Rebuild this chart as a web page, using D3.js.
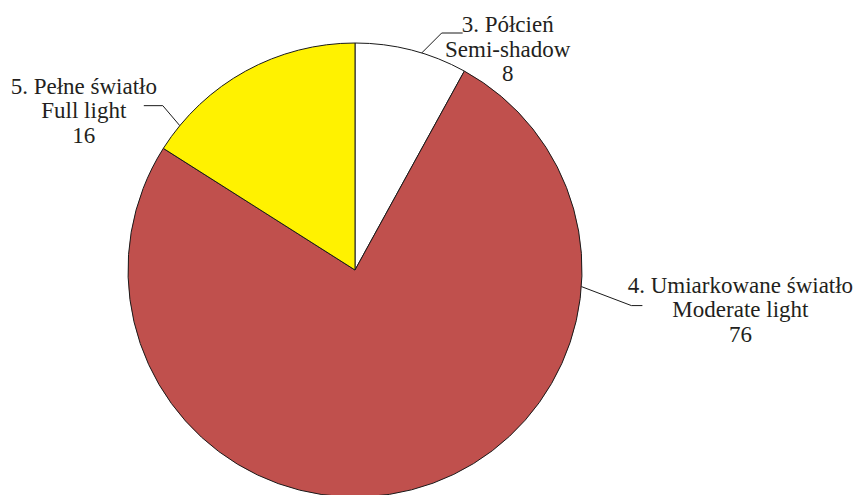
<!DOCTYPE html>
<html>
<head>
<meta charset="utf-8">
<script src="https://cdn.jsdelivr.net/npm/d3@7"></script>
</head>
<body style="margin:0">
<svg id="chart" width="860" height="495"></svg>
<script>
// Light conditions: share of records per category
const categories = ["3. Półcień", "4. Umiarkowane światło", "5. Pełne światło"];
const englishNames = ["Semi-shadow", "Moderate light", "Full light"];
const values = [8, 76, 16];
const colors = ["#ffffff", "#c0504d", "#fff200"];

const width = 860, height = 495;
const cx = 355, cy = 270, radius = 227;

const svg = d3.select("#chart");
const g = svg.append("g").attr("transform", `translate(${cx},${cy})`);

const pie = d3.pie().sort(null).value(d => d.value);
const arcs = pie(values.map((v, i) => ({ value: v, i })));
const arc = d3.arc().innerRadius(0).outerRadius(radius);

g.selectAll("path.slice")
  .data(arcs)
  .enter().append("path")
  .attr("class", "slice")
  .attr("d", arc)
  .attr("fill", d => colors[d.data.i])
  .attr("stroke", "#1a1a1a")
  .attr("stroke-width", 1);

// Leader lines: start on the rim, bend at an elbow, run horizontally to the label block
const leaders = [
  { frac: 0.593, elbow: [20, -20], run: 21, label: [45, -1] },
  { frac: 0.239, elbow: [50, 19], run: 11, label: [98, -13] },
  { frac: 0.123, elbow: [-17, -20], run: -19, label: [-60, -12] }
];

const line = d3.line();
const labelRows = [];
arcs.forEach((d, k) => {
  const L = leaders[k];
  const a = d.startAngle + (d.endAngle - d.startAngle) * L.frac;
  const x0 = cx + Math.sin(a) * radius, y0 = cy - Math.cos(a) * radius;
  const x1 = x0 + L.elbow[0], y1 = y0 + L.elbow[1];
  const x2 = x1 + L.run;
  svg.append("path")
    .attr("d", line([[x0, y0], [x1, y1], [x2, y1]]))
    .attr("fill", "none")
    .attr("stroke", "#1a1a1a")
    .attr("stroke-width", 1);

  // Three stacked rows per label: Polish name, English name, value
  [categories[k], englishNames[k], String(d.data.value)].forEach((s, j) => {
    labelRows.push({ s, x: x2 + L.label[0], y: y1 + L.label[1] + j * 24.5 });
  });
});

const serifFaces = ["Times New Roman", "Tinos", "Liberation Serif"];
svg.selectAll("text.label")
  .data(labelRows)
  .enter().append("text")
  .attr("class", "label")
  .attr("x", d => d.x)
  .attr("y", d => d.y)
  .attr("text-anchor", "middle")
  .attr("font-size", 23)
  .attr("font-family", serifFaces.map(f => `'${f}'`).join(", ") + ", serif")
  .style("font-family", () => `'${serifFaces[0]}'`)
  .attr("fill", "#231f20")
  .text(d => d.s);
</script>
</body>
</html>
